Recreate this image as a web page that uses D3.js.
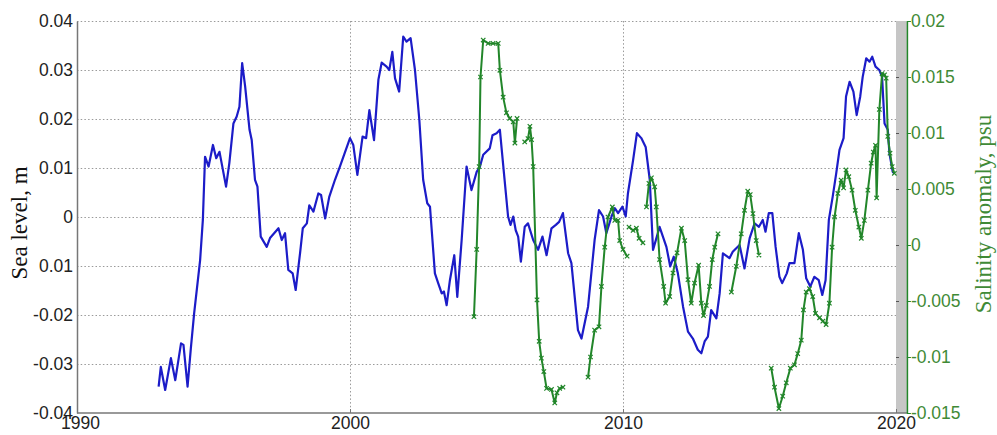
<!DOCTYPE html>
<html>
<head>
<meta charset="utf-8">
<script src="https://cdn.jsdelivr.net/npm/d3@7"></script>
<style>
  body { margin: 0; background: #fff; }
  svg { display: block; }
</style>
</head>
<body>
<svg id="chart" width="997" height="435"></svg>
<script>
// Sea level (m), [decimal year, value]
const seaLevel = [
  [1992.99,-0.0346],[1993.07,-0.0306],[1993.23,-0.0353],[1993.44,-0.0288],[1993.60,-0.0333],
  [1993.81,-0.0258],[1993.90,-0.0261],[1994.05,-0.0346],[1994.17,-0.0268],[1994.29,-0.0197],
  [1994.51,-0.0088],[1994.61,-0.0006],[1994.69,0.0123],[1994.82,0.0103],[1994.98,0.0147],
  [1995.10,0.0120],[1995.22,0.0133],[1995.46,0.0062],[1995.58,0.0110],[1995.73,0.0191],
  [1995.85,0.0205],[1995.95,0.0225],[1996.05,0.0314],[1996.16,0.0266],[1996.32,0.0178],
  [1996.40,0.0157],[1996.52,0.0076],[1996.61,0.0062],[1996.73,-0.0040],[1996.95,-0.0061],
  [1997.07,-0.0043],[1997.38,-0.0023],[1997.50,-0.0047],[1997.62,-0.0033],[1997.74,-0.0108],
  [1997.90,-0.0115],[1998.01,-0.0149],[1998.17,-0.0074],[1998.27,-0.0023],[1998.42,-0.0013],
  [1998.51,0.0024],[1998.66,0.0011],[1998.84,0.0048],[1998.94,0.0045],[1999.09,-0.0003],
  [1999.24,0.0041],[1999.45,0.0076],[1999.63,0.0103],[2000.00,0.0161],[2000.12,0.0147],
  [2000.27,0.0086],[2000.46,0.0164],[2000.59,0.0161],[2000.71,0.0218],[2000.88,0.0157],
  [2001.04,0.0280],[2001.16,0.0315],[2001.34,0.0307],[2001.44,0.0300],[2001.55,0.0337],
  [2001.65,0.0283],[2001.80,0.0256],[2001.95,0.0368],[2002.07,0.0358],[2002.22,0.0365],
  [2002.38,0.0300],[2002.54,0.0198],[2002.68,0.0076],[2002.83,0.0028],[2002.93,0.0021],
  [2003.11,-0.0115],[2003.23,-0.0135],[2003.36,-0.0156],[2003.44,-0.0152],[2003.54,-0.0180],
  [2003.66,-0.0129],[2003.82,-0.0078],[2003.93,-0.0163],[2004.09,-0.0047],[2004.27,0.0103],
  [2004.45,0.0055],[2004.64,0.0092],[2004.76,0.0103],[2004.88,0.0127],[2005.12,0.0140],
  [2005.22,0.0167],[2005.37,0.0171],[2005.49,0.0178],[2005.64,0.0089],[2005.79,0.0001],
  [2005.88,-0.0016],[2005.98,0.0001],[2006.07,-0.0027],[2006.16,-0.0040],[2006.26,-0.0091],
  [2006.40,-0.0020],[2006.52,-0.0013],[2006.71,-0.0047],[2006.89,-0.0067],[2007.05,-0.0040],
  [2007.20,-0.0078],[2007.38,-0.0023],[2007.54,-0.0016],[2007.66,-0.0010],[2007.80,0.0008],
  [2007.99,-0.0074],[2008.11,-0.0094],[2008.35,-0.0231],[2008.48,-0.0248],[2008.72,-0.0183],
  [2008.96,-0.0047],[2009.12,0.0014],[2009.27,0.0001],[2009.39,-0.0033],[2009.58,0.0001],
  [2009.70,0.0018],[2009.82,0.0008],[2009.98,0.0021],[2010.10,0.0001],[2010.18,0.0048],
  [2010.37,0.0116],[2010.51,0.0171],[2010.67,0.0161],[2010.83,0.0143],[2010.98,0.0076],
  [2011.10,-0.0067],[2011.24,-0.0040],[2011.34,-0.0020],[2011.59,-0.0061],[2011.73,-0.0101],
  [2011.86,-0.0081],[2012.01,-0.0115],[2012.20,-0.0183],[2012.38,-0.0234],[2012.56,-0.0248],
  [2012.74,-0.0271],[2012.87,-0.0278],[2012.99,-0.0254],[2013.11,-0.0244],[2013.23,-0.0190],
  [2013.42,-0.0207],[2013.54,-0.0156],[2013.66,-0.0074],[2013.90,-0.0084],[2014.02,-0.0071],
  [2014.27,-0.0057],[2014.45,-0.0105],[2014.64,-0.0043],[2014.82,-0.0013],[2014.98,-0.0020],
  [2015.12,-0.0006],[2015.22,-0.0030],[2015.34,0.0008],[2015.47,0.0008],[2015.59,-0.0061],
  [2015.73,-0.0122],[2015.83,-0.0135],[2016.00,-0.0115],[2016.10,-0.0094],[2016.28,-0.0094],
  [2016.44,-0.0033],[2016.59,-0.0067],[2016.71,-0.0125],[2016.86,-0.0142],[2017.01,-0.0122],
  [2017.17,-0.0129],[2017.30,-0.0159],[2017.42,-0.0129],[2017.54,-0.0006],[2017.68,0.0041],
  [2017.81,0.0089],[2017.93,0.0137],[2018.08,0.0161],[2018.17,0.0246],[2018.30,0.0276],
  [2018.44,0.0256],[2018.56,0.0208],[2018.69,0.0246],[2018.78,0.0286],[2018.91,0.0324],
  [2019.03,0.0317],[2019.13,0.0327],[2019.25,0.0307],[2019.39,0.0300],[2019.49,0.0286],
  [2019.58,0.0191],[2019.70,0.0178],[2019.76,0.0130],[2019.88,0.0092],[2019.94,0.0089]
];

// Salinity anomaly (psu), [decimal year, value]; null marks a gap in the record
const salinity = [
  [2004.54,-0.0064],[2004.64,-0.0004],[2004.73,0.0070],[2004.78,0.0150],[2004.88,0.0183],
  [2005.06,0.0180],[2005.24,0.0180],[2005.43,0.0180],[2005.49,0.0156],[2005.61,0.0132],
  [2005.73,0.0118],[2005.85,0.0113],[2005.98,0.0110],[2006.04,0.0091],[2006.12,0.0113],
  null,
  [2006.40,0.0092],[2006.52,0.0095],[2006.59,0.0106],[2006.65,0.0094],[2006.71,0.0070],
  [2006.85,-0.0049],[2006.93,-0.0086],[2007.01,-0.0101],[2007.10,-0.0113],[2007.20,-0.0128],
  [2007.38,-0.0129],[2007.50,-0.0141],[2007.58,-0.0132],[2007.68,-0.0128],[2007.80,-0.0127],
  null,
  [2008.72,-0.0118],[2008.81,-0.0100],[2008.96,-0.0076],[2009.12,-0.0073],[2009.21,-0.0037],
  [2009.33,-0.0002],[2009.45,0.0025],[2009.61,0.0034],[2009.70,0.0022],[2009.82,0.0022],
  [2009.88,0.0004],[2010.00,-0.0004],[2010.15,-0.0010],
  null,
  [2010.22,0.0016],[2010.37,0.0013],[2010.49,0.0015],[2010.59,0.0006],[2010.73,0.0002],
  null,
  [2010.86,0.0034],[2010.95,0.0055],[2011.04,0.0060],[2011.16,0.0052],[2011.22,0.0034],
  [2011.34,-0.0013],[2011.49,-0.0037],[2011.56,-0.0052],[2011.71,-0.0046],[2011.83,-0.0025],
  [2011.98,-0.0007],[2012.14,0.0015],[2012.26,0.0004],[2012.38,-0.0031],[2012.50,-0.0052],
  [2012.62,-0.0034],[2012.77,-0.0018],[2012.87,-0.0052],[2012.95,-0.0063],[2013.05,-0.0054],
  [2013.17,-0.0037],[2013.27,-0.0013],[2013.36,-0.0002],[2013.48,0.0010],
  null,
  [2013.97,-0.0042],[2014.15,-0.0019],[2014.33,0.0010],[2014.45,0.0031],[2014.57,0.0048],
  [2014.66,0.0045],[2014.76,0.0028],[2014.88,0.0004],[2014.98,-0.0009],
  null,
  [2015.43,-0.0110],[2015.55,-0.0127],[2015.71,-0.0146],[2015.85,-0.0135],[2015.98,-0.0123],
  [2016.13,-0.0110],[2016.28,-0.0107],[2016.40,-0.0097],[2016.53,-0.0085],[2016.61,-0.0058],
  [2016.71,-0.0042],[2016.83,-0.0039],[2016.95,-0.0046],[2017.05,-0.0061],[2017.20,-0.0065],
  [2017.32,-0.0068],[2017.44,-0.0071],[2017.56,-0.0052],[2017.66,-0.0002],[2017.75,0.0025],
  [2017.87,0.0046],[2017.99,0.0058],[2018.08,0.0051],[2018.17,0.0067],[2018.27,0.0061],
  [2018.39,0.0049],[2018.51,0.0031],[2018.64,0.0016],[2018.73,0.0006],[2018.84,0.0022],
  [2018.97,0.0049],[2019.09,0.0073],[2019.17,0.0083],[2019.25,0.0089],[2019.29,0.0042],
  [2019.39,0.0121],[2019.49,0.0153],[2019.58,0.0152],[2019.64,0.0149],[2019.70,0.0097],
  [2019.78,0.0082],[2019.86,0.0070],[2019.94,0.0064]
];

const yearTicks = [1990, 2000, 2010, 2020];
const seaTicks = [-0.04, -0.03, -0.02, -0.01, 0, 0.01, 0.02, 0.03, 0.04];
const seaTickLabels = ["-0.04", "-0.03", "-0.02", "0.01", "0", "0.01", "0.02", "0.03", "0.04"];
const salTicks = [-0.015, -0.01, -0.005, 0, 0.005, 0.01, 0.015, 0.02];
const salTickLabels = ["-0.015", "-0.01", "-0.005", "0", "0.005", "0.01", "0.015", "0.02"];

const blue = "#1c1cc8";
const green = "#22862a";
const greenText = "#3f8a36";
const sansFont = "'Liberation Sans', Arial, sans-serif";
const serifFont = "'Liberation Serif', 'Times New Roman', serif";
const tickFontSize = 17.5;
const titleFontSize = 23;

const svg = d3.select("#chart");

const x = d3.scaleLinear().domain([1990, 2020]).range([77, 896]);
const xRightEdge = 2020.4;
const ySea = d3.scaleLinear().domain([-0.04, 0.04]).range([413, 21]);
const ySal = d3.scaleLinear().domain([-0.015, 0.02]).range([413, 21]);

const plotLeft = x(1990), plotRight = x(xRightEdge);
const plotTop = ySea(0.04), plotBottom = ySea(-0.04);

// strip between the last year tick and the salinity axis
svg.append("rect")
  .attr("x", x(2020)).attr("y", plotTop)
  .attr("width", plotRight - x(2020)).attr("height", plotBottom - plotTop)
  .attr("fill", "#c6c6c6");

// dotted grid
const grid = svg.append("g").attr("stroke", "#9a9a9a").attr("stroke-width", 1)
  .attr("stroke-dasharray", "1.5,2.2");
grid.selectAll("line.h").data(seaTicks.filter(d => d > -0.04)).join("line")
  .attr("class", "h")
  .attr("x1", plotLeft).attr("x2", x(2020))
  .attr("y1", d => Math.round(ySea(d)) + 0.5).attr("y2", d => Math.round(ySea(d)) + 0.5);
grid.selectAll("line.v").data(yearTicks.filter(d => d > 1990 && d < 2020)).join("line")
  .attr("class", "v")
  .attr("x1", d => Math.round(x(d)) + 0.5).attr("x2", d => Math.round(x(d)) + 0.5)
  .attr("y1", plotTop).attr("y2", plotBottom);

// small inner ticks for the salinity scale along the strip edge
svg.append("g").selectAll("line").data(salTicks.filter(d => d > -0.015 && d < 0.02)).join("line")
  .attr("x1", x(2020)).attr("x2", x(2020) + 3)
  .attr("y1", d => Math.round(ySal(d)) + 0.5).attr("y2", d => Math.round(ySal(d)) + 0.5)
  .attr("stroke", "#555").attr("stroke-width", 1);

// sea level line
const lineSea = d3.line().x(d => x(d[0])).y(d => ySea(d[1])).curve(d3.curveLinear);
svg.append("path").datum(seaLevel)
  .attr("d", lineSea)
  .attr("fill", "none").attr("stroke", blue).attr("stroke-width", 2.2)
  .attr("stroke-linejoin", "round");

// salinity line with cross markers
const lineSal = d3.line().defined(d => d !== null).x(d => x(d[0])).y(d => ySal(d[1]));
svg.append("path").datum(salinity)
  .attr("d", lineSal)
  .attr("fill", "none").attr("stroke", green).attr("stroke-width", 2)
  .attr("stroke-linejoin", "round");
svg.append("g").selectAll("path").data(salinity.filter(d => d !== null)).join("path")
  .attr("transform", d => `translate(${x(d[0])},${ySal(d[1])})`)
  .attr("d", "M-2.2,-2.2L2.2,2.2M-2.2,2.2L2.2,-2.2")
  .attr("stroke", green).attr("stroke-width", 1.2).attr("fill", "none");

// left axis (sea level)
const axL = svg.append("g").attr("transform", `translate(${plotLeft},0)`)
  .call(d3.axisLeft(ySea).tickValues(seaTicks)
    .tickFormat((d, i) => seaTickLabels[i]).tickSize(0).tickPadding(4));
axL.select(".domain").attr("stroke", "#777").attr("stroke-width", 1.5);
axL.selectAll("text").attr("font-family", sansFont).attr("font-size", tickFontSize).attr("fill", "#222");

// bottom axis (years)
const axB = svg.append("g").attr("transform", `translate(0,${plotBottom})`)
  .call(d3.axisBottom(x).tickValues(yearTicks).tickFormat(d3.format("d"))
    .tickSizeInner(-4).tickSizeOuter(0).tickPadding(4));
axB.select(".domain").attr("d", `M${plotLeft},0H${plotRight}`).attr("stroke", "#777").attr("stroke-width", 1.5);
axB.selectAll(".tick line").attr("stroke", "#777");
axB.selectAll("text").attr("font-family", sansFont).attr("font-size", tickFontSize).attr("fill", "#222")
  .attr("dx", d => d === 1990 ? 3 : 0);

// right axis (salinity)
const axR = svg.append("g").attr("transform", `translate(${plotRight},0)`)
  .call(d3.axisRight(ySal).tickValues(salTicks)
    .tickFormat((d, i) => salTickLabels[i]).tickSizeInner(4).tickSizeOuter(0).tickPadding(0));
axR.select(".domain").attr("stroke", green).attr("stroke-width", 1.5);
axR.selectAll(".tick line").attr("stroke", green);
axR.selectAll("text").attr("font-family", sansFont).attr("font-size", tickFontSize).attr("fill", greenText);

// axis titles
svg.append("text")
  .attr("transform", `translate(27,223) rotate(-90)`)
  .attr("text-anchor", "middle")
  .attr("font-family", serifFont).attr("font-size", titleFontSize).attr("fill", "#111")
  .text("Sea level, m");
svg.append("text")
  .attr("transform", `translate(991,214) rotate(-90)`)
  .attr("text-anchor", "middle")
  .attr("font-family", serifFont).attr("font-size", titleFontSize).attr("fill", greenText)
  .text("Salinity anomaly, psu");
</script>
</body>
</html>
